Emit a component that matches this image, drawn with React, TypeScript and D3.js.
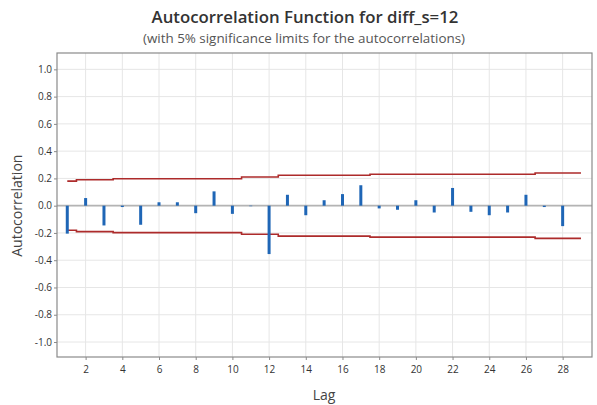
import React, { useEffect, useRef } from 'react';
import * as d3 from 'd3';

const width = 597, height = 405;
const margin = { top: 53, right: 5, bottom: 48, left: 57 };

// lags and autocorrelations
const lags = [1, 2, 3, 4, 5, 6, 7, 8, 9, 10, 11, 12, 13, 14, 15, 16, 17, 18, 19, 20, 21, 22, 23, 24, 25, 26, 27, 28];
const acf = [-0.205, 0.056, -0.145, -0.01, -0.14, 0.025, 0.025, -0.055, 0.105, -0.06, -0.004, -0.355, 0.08, -0.07, 0.04, 0.085, 0.15, -0.02, -0.03, 0.04, -0.05, 0.13, -0.045, -0.07, -0.05, 0.08, -0.01, -0.15];
// 5% significance limit (+/-) at each lag
const limits = [0.18, 0.19, 0.19, 0.198, 0.198, 0.198, 0.198, 0.198, 0.198, 0.198, 0.21, 0.21, 0.223, 0.223, 0.223, 0.223, 0.223, 0.231, 0.231, 0.231, 0.231, 0.231, 0.231, 0.231, 0.231, 0.231, 0.24, 0.24];

const xTicks = [2, 4, 6, 8, 10, 12, 14, 16, 18, 20, 22, 24, 26, 28];
const yTicks = [-1.0, -0.8, -0.6, -0.4, -0.2, 0.0, 0.2, 0.4, 0.6, 0.8, 1.0];

const font = '"Open Sans", "Noto Sans", sans-serif';

export default function App() {
    const xAxisRef = useRef<SVGGElement>(null);
    const yAxisRef = useRef<SVGGElement>(null);

    // scales for the plot area
    const xScale = d3.scaleLinear().domain([0.44, 29.6]).range([margin.left, width - margin.right]);
    const yScale = d3.scaleLinear().domain([-1.11, 1.12]).range([height - margin.bottom, margin.top]);

    // step path for the significance limits
    const stepPoints = (sign: number) => {
        const pts: [number, number][] = [];
        lags.forEach((lag, i) => {
            const x0 = i === 0 ? lag : lag - 0.5;
            const x1 = i === lags.length - 1 ? lag + 1 : lag + 0.5;
            pts.push([x0, sign * limits[i]], [x1, sign * limits[i]]);
        });
        return pts;
    };
    const line = d3.line<[number, number]>()
        .x(d => xScale(d[0]))
        .y(d => yScale(d[1]));

    useEffect(() => {
        const xAxis = d3.axisBottom(xScale).tickValues(xTicks).tickSize(3).tickPadding(6)
            .tickFormat(d => String(d));
        const yAxis = d3.axisLeft(yScale).tickValues(yTicks).tickSize(3).tickPadding(2)
            .tickFormat(d => (d as number).toFixed(1));
        const styleAxis = (g: d3.Selection<SVGGElement, unknown, null, undefined>) => {
            g.select('.domain').remove();
            g.selectAll('line').attr('stroke', '#8a8a8a');
            g.selectAll('text').attr('fill', '#333').style('font-family', font).style('font-size', '10px');
        };
        d3.select(xAxisRef.current!).call(xAxis).call(styleAxis);
        d3.select(yAxisRef.current!).call(yAxis).call(styleAxis);
    }, []);

    const [x0, x1] = xScale.range();
    const [y0, y1] = yScale.range();

    return (
        <svg width={width} height={height} style={{ position: 'absolute', left: 0, top: 0 }}>
            <rect x={0} y={0} width={width} height={height} fill="#fff" />
            <text x={305} y={23} textAnchor="middle" fill="#333" fontFamily={font} fontWeight={600} fontSize={16.8}>
                Autocorrelation Function for diff_s=12
            </text>
            <text x={304} y={43} textAnchor="middle" fill="#555" fontFamily={font} fontSize={13.4}>
                (with 5% significance limits for the autocorrelations)
            </text>

            {/* grid */}
            {xTicks.map(t => (
                <line key={'gx' + t} x1={xScale(t)} x2={xScale(t)} y1={y1} y2={y0} stroke="#e6e6e6" strokeWidth={1} />
            ))}
            {yTicks.map(t => (
                <line key={'gy' + t} x1={x0} x2={x1} y1={yScale(t)} y2={yScale(t)} stroke="#e6e6e6" strokeWidth={1} />
            ))}

            {/* zero line */}
            <line x1={x0} x2={x1} y1={yScale(0)} y2={yScale(0)} stroke="#b4b4b4" strokeWidth={1.8} />

            {/* significance limits */}
            <path d={line(stepPoints(1))!} fill="none" stroke="#ad2b2b" strokeWidth={1.6} />
            <path d={line(stepPoints(-1))!} fill="none" stroke="#ad2b2b" strokeWidth={1.6} />

            {/* acf bars */}
            {lags.map((lag, i) => (
                <line key={lag} x1={xScale(lag)} x2={xScale(lag)} y1={yScale(0)} y2={yScale(acf[i])}
                    stroke="#1f66b6" strokeWidth={3} />
            ))}

            {/* frame */}
            <rect x={x0} y={y1} width={x1 - x0} height={y0 - y1} fill="none" stroke="#8a8a8a" strokeWidth={1.2} />

            <g ref={xAxisRef} transform={`translate(0,${y0})`} />
            <g ref={yAxisRef} transform={`translate(${x0},0)`} />

            <text x={324} y={400} textAnchor="middle" fill="#444" fontFamily={font} fontSize={14}>Lag</text>
            <text transform={`translate(22,${yScale(0)}) rotate(-90)`} textAnchor="middle" fill="#444"
                fontFamily={font} fontSize={14}>Autocorrelation</text>
        </svg>
    );
}
